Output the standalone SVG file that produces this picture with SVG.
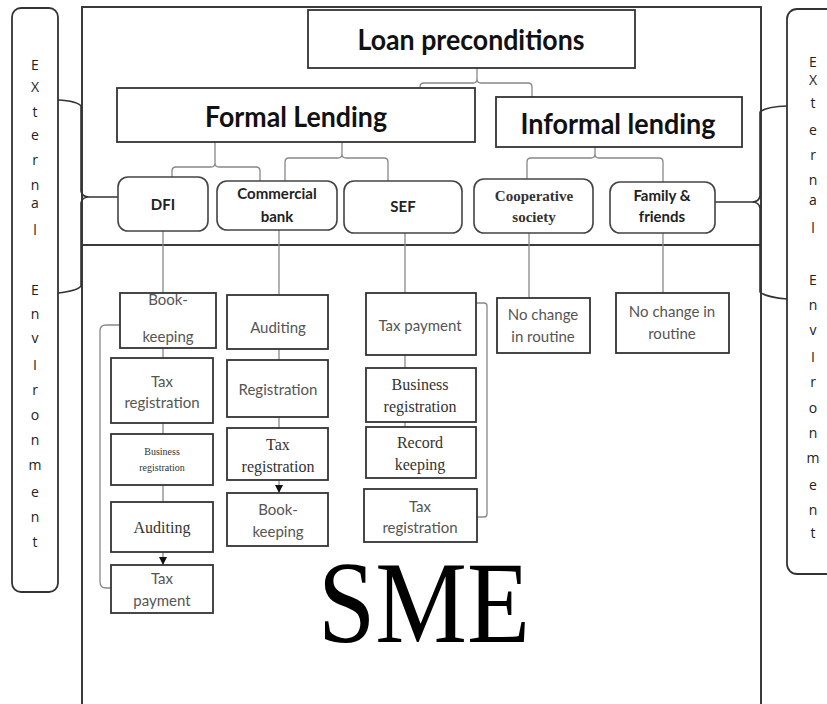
<svg xmlns="http://www.w3.org/2000/svg" width="827" height="704" viewBox="0 0 827 704">
  <style>
    .frame { fill: none; stroke: #3a3a3a; stroke-width: 2; }
    .box { fill: #fff; stroke: #333; stroke-width: 1.8; }
    .rbox { fill: #fff; stroke: #444; stroke-width: 1.6; }
    .link { fill: none; stroke: #888; stroke-width: 1.3; }
    .brace { fill: none; stroke: #333; stroke-width: 1.6; }
    .title { font-family: Lato, "Liberation Sans", sans-serif; font-weight: bold; font-size: 28px; fill: #111; text-anchor: middle; }
    .head { font-family: Lato, "Liberation Sans", sans-serif; font-weight: bold; font-size: 15px; fill: #222; text-anchor: middle; }
    .heads { font-family: "Liberation Serif", serif; font-weight: bold; font-size: 15px; fill: #333; text-anchor: middle; }
    .sans { font-family: Lato, "Liberation Sans", sans-serif; font-size: 15px; fill: #555; text-anchor: middle; }
    .serif { font-family: "Liberation Serif", serif; font-size: 16px; fill: #333; text-anchor: middle; }
    .tiny { font-family: "Liberation Serif", serif; font-size: 10px; fill: #333; text-anchor: middle; }
    .env { font-family: "Open Sans", "Liberation Sans", sans-serif; font-size: 14px; fill: #222; text-anchor: middle; }
  </style>
  <defs>
    <marker id="arrow" markerWidth="9" markerHeight="9" refX="8" refY="4.5" orient="auto" markerUnits="userSpaceOnUse" viewBox="0 0 9 9">
      <path d="M0,0.5 L8,4.5 L0,8.5 Z" fill="#111"/>
    </marker>
  </defs>

  <rect width="827" height="704" fill="#fff"/>

  <!-- outer frame and SME section -->
  <g id="frame">
    <path class="frame" d="M82,720 V7 H761 V720"/>
    <line class="frame" x1="83" y1="245" x2="761" y2="245"/>
  </g>

  <!-- external environment side panels -->
  <g id="env-left">
    <rect x="12" y="8" width="46" height="584" rx="9" fill="#fff" stroke="#333" stroke-width="1.8"/>
    <text class="env" x="35" y="70">E</text>
    <text class="env" x="35" y="92">X</text>
    <text class="env" x="35" y="117">t</text>
    <text class="env" x="35" y="140">e</text>
    <text class="env" x="35" y="165">r</text>
    <text class="env" x="35" y="190">n</text>
    <text class="env" x="35" y="208">a</text>
    <text class="env" x="35" y="235">l</text>
    <text class="env" x="35" y="295">E</text>
    <text class="env" x="35" y="319">n</text>
    <text class="env" x="35" y="343">v</text>
    <text class="env" x="35" y="370">I</text>
    <text class="env" x="35" y="395">r</text>
    <text class="env" x="35" y="420">o</text>
    <text class="env" x="35" y="445">n</text>
    <text class="env" x="35" y="470">m</text>
    <text class="env" x="35" y="497">e</text>
    <text class="env" x="35" y="522">n</text>
    <text class="env" x="35" y="547">t</text>
  </g>
  <g id="env-right">
    <rect x="787" y="9" width="70" height="565" rx="10" fill="#fff" stroke="#333" stroke-width="1.8"/>
    <text class="env" x="813" y="67">E</text>
    <text class="env" x="813" y="85">X</text>
    <text class="env" x="813" y="108">t</text>
    <text class="env" x="813" y="135">e</text>
    <text class="env" x="813" y="160">r</text>
    <text class="env" x="813" y="185">n</text>
    <text class="env" x="813" y="205">a</text>
    <text class="env" x="813" y="233">l</text>
    <text class="env" x="813" y="285">E</text>
    <text class="env" x="813" y="310">n</text>
    <text class="env" x="813" y="335">v</text>
    <text class="env" x="813" y="362">I</text>
    <text class="env" x="813" y="387">r</text>
    <text class="env" x="813" y="413">o</text>
    <text class="env" x="813" y="438">n</text>
    <text class="env" x="813" y="463">m</text>
    <text class="env" x="813" y="490">e</text>
    <text class="env" x="813" y="515">n</text>
    <text class="env" x="813" y="538">t</text>
  </g>

  <!-- connectors -->
  <g id="connectors">
    <!-- environment braces -->
    <path class="brace" d="M58,100 Q77,101 81,106 V191 Q82,197 89,197 Q82,197 81,203 V286 Q77,291 58,293 M89,197 H118"/>
    <path class="brace" d="M787,106 Q765,107 760,112 V196 Q759,202 752,202 Q759,202 760,208 V292 Q765,297 787,299 M752,202 H715"/>
    <!-- loan preconditions to lending types -->
    <path class="link" d="M420,88 V87 Q420,83 424,83 H473 Q477,83 477,79 V68 M477,79 Q477,83 481,83 H528 Q532,83 532,87 V97"/>
    <!-- formal lending to institutions -->
    <path class="link" d="M172,177 V171 Q172,167 176,167 H211 Q215,167 215,163 V142 M215,163 Q215,167 219,167 H256 Q260,167 260,171 V181"/>
    <path class="link" d="M285,181 V162 Q285,158 289,158 H338 Q342,158 342,154 V142 M342,154 Q342,158 346,158 H384 Q388,158 388,162 V181"/>
    <!-- informal lending to institutions -->
    <path class="link" d="M527,179 V162 Q527,158 531,158 H591 Q595,158 595,154 V147 M595,154 Q595,158 599,158 H659 Q663,158 663,162 V182"/>
    <!-- institutions to first requirement -->
    <line class="link" x1="163" y1="231" x2="163" y2="293"/>
    <line class="link" x1="279" y1="230" x2="279" y2="295"/>
    <line class="link" x1="405" y1="233" x2="405" y2="293"/>
    <line class="link" x1="529" y1="233" x2="529" y2="298"/>
    <line class="link" x1="663" y1="233" x2="663" y2="293"/>
    <!-- DFI sequence -->
    <line class="link" x1="163" y1="348" x2="163" y2="358"/>
    <line class="link" x1="163" y1="423" x2="163" y2="434"/>
    <line class="link" x1="163" y1="485" x2="163" y2="502"/>
    <line class="link" x1="163" y1="552" x2="163" y2="565" marker-end="url(#arrow)"/>
    <path class="link" d="M120,325 H106 Q100,325 100,331 V582 Q100,588 106,588 H111"/>
    <!-- commercial bank sequence -->
    <line class="link" x1="279" y1="349" x2="279" y2="360"/>
    <line class="link" x1="279" y1="417" x2="279" y2="428"/>
    <line class="link" x1="279" y1="480" x2="279" y2="493" marker-end="url(#arrow)"/>
    <!-- SEF sequence -->
    <line class="link" x1="405" y1="355" x2="405" y2="368"/>
    <line class="link" x1="405" y1="422" x2="405" y2="427"/>
    <path class="link" d="M476,303 H484 Q487,303 487,306 V514 Q487,517 484,517 H477"/>
  </g>

  <!-- lending structure -->
  <g id="loan-preconditions">
    <rect class="box" x="308" y="10" width="327" height="58"/>
    <text class="title" x="471" y="50" textLength="227" lengthAdjust="spacingAndGlyphs">Loan preconditions</text>
  </g>
  <g id="formal-lending">
    <rect class="box" x="117" y="88" width="358" height="54"/>
    <text class="title" x="296" y="127" textLength="182" lengthAdjust="spacingAndGlyphs">Formal Lending</text>
  </g>
  <g id="informal-lending">
    <rect class="box" x="496" y="97" width="246" height="50"/>
    <text class="title" x="618" y="134" textLength="195" lengthAdjust="spacingAndGlyphs">Informal lending</text>
  </g>

  <!-- lenders -->
  <g id="dfi">
    <rect class="rbox" x="118" y="177" width="90" height="54" rx="10"/>
    <text class="head" x="163" y="210">DFI</text>
  </g>
  <g id="commercial-bank">
    <rect class="rbox" x="217" y="181" width="120" height="49" rx="10"/>
    <text class="head" x="277" y="199">Commercial</text>
    <text class="head" x="277" y="222">bank</text>
  </g>
  <g id="sef">
    <rect class="rbox" x="344" y="181" width="118" height="52" rx="10"/>
    <text class="head" x="403" y="212">SEF</text>
  </g>
  <g id="cooperative-society">
    <rect class="rbox" x="474" y="179" width="119" height="54" rx="10"/>
    <text class="heads" x="534" y="201">Cooperative</text>
    <text class="heads" x="534" y="222">society</text>
  </g>
  <g id="family-friends">
    <rect class="rbox" x="610" y="182" width="105" height="51" rx="10"/>
    <text class="head" x="662" y="201">Family &amp;</text>
    <text class="head" x="662" y="222">friends</text>
  </g>

  <!-- DFI requirements -->
  <g id="dfi-bookkeeping">
    <rect class="box" x="120" y="293" width="96" height="55"/>
    <text class="sans" x="168" y="305">Book-</text>
    <text class="sans" x="168" y="342">keeping</text>
  </g>
  <g id="dfi-tax-registration">
    <rect class="box" x="111" y="358" width="102" height="65"/>
    <text class="sans" x="162" y="387">Tax</text>
    <text class="sans" x="162" y="408">registration</text>
  </g>
  <g id="dfi-business-registration">
    <rect class="box" x="111" y="434" width="102" height="51"/>
    <text class="tiny" x="162" y="455">Business</text>
    <text class="tiny" x="162" y="471">registration</text>
  </g>
  <g id="dfi-auditing">
    <rect class="box" x="111" y="502" width="102" height="50"/>
    <text class="serif" x="162" y="533">Auditing</text>
  </g>
  <g id="dfi-tax-payment">
    <rect class="box" x="111" y="565" width="102" height="48"/>
    <text class="sans" x="162" y="584">Tax</text>
    <text class="sans" x="162" y="606">payment</text>
  </g>

  <!-- commercial bank requirements -->
  <g id="cb-auditing">
    <rect class="box" x="227" y="295" width="101" height="54"/>
    <text class="sans" x="278" y="333">Auditing</text>
  </g>
  <g id="cb-registration">
    <rect class="box" x="227" y="360" width="101" height="57"/>
    <text class="sans" x="278" y="395">Registration</text>
  </g>
  <g id="cb-tax-registration">
    <rect class="box" x="227" y="428" width="101" height="52"/>
    <text class="serif" x="278" y="450">Tax</text>
    <text class="serif" x="278" y="472">registration</text>
  </g>
  <g id="cb-bookkeeping">
    <rect class="box" x="227" y="493" width="101" height="53"/>
    <text class="sans" x="278" y="515">Book-</text>
    <text class="sans" x="278" y="537">keeping</text>
  </g>

  <!-- SEF requirements -->
  <g id="sef-tax-payment">
    <rect class="box" x="366" y="293" width="110" height="62"/>
    <text class="sans" x="420" y="331">Tax payment</text>
  </g>
  <g id="sef-business-registration">
    <rect class="box" x="366" y="368" width="110" height="54"/>
    <text class="serif" x="420" y="390">Business</text>
    <text class="serif" x="420" y="412">registration</text>
  </g>
  <g id="sef-record-keeping">
    <rect class="box" x="366" y="427" width="110" height="51"/>
    <text class="serif" x="420" y="448">Record</text>
    <text class="serif" x="420" y="470">keeping</text>
  </g>
  <g id="sef-tax-registration">
    <rect class="box" x="364" y="489" width="113" height="53"/>
    <text class="sans" x="420" y="512">Tax</text>
    <text class="sans" x="420" y="533">registration</text>
  </g>

  <!-- informal lenders -->
  <g id="coop-routine">
    <rect class="box" x="497" y="298" width="93" height="55"/>
    <text class="sans" x="543" y="320">No change</text>
    <text class="sans" x="543" y="342">in routine</text>
  </g>
  <g id="family-routine">
    <rect class="box" x="616" y="293" width="113" height="60"/>
    <text class="sans" x="672" y="317">No change in</text>
    <text class="sans" x="672" y="339">routine</text>
  </g>

  <!-- SME label -->
  <g id="sme">
    <text x="424" y="642" font-family="'Liberation Serif', serif" font-size="116" fill="#000" text-anchor="middle" textLength="212" lengthAdjust="spacingAndGlyphs">SME</text>
  </g>
</svg>
